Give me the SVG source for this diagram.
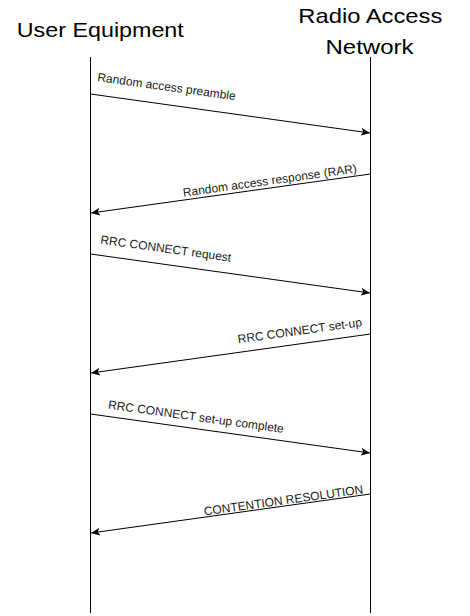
<svg xmlns="http://www.w3.org/2000/svg" width="470" height="616" viewBox="0 0 470 616">
<style>
.hdr{font-family:"Liberation Sans",Arial,sans-serif;font-size:21px;fill:#000;text-anchor:middle}
.lbl{font-family:"Liberation Sans",Arial,sans-serif;font-size:12px;fill:#1a1a1a}
.life{stroke:#000;stroke-width:1;fill:none}
.msg{stroke:#000;stroke-width:1;fill:none;marker-end:url(#arr)}
</style>
<defs>
<marker id="arr" markerUnits="userSpaceOnUse" markerWidth="10" markerHeight="8" refX="9" refY="4" orient="auto" viewBox="0 0 10 8">
<path d="M0,0 L9,4 L0,8 L2.2,4 Z" fill="#000"/>
</marker>
</defs>
<rect width="470" height="616" fill="#fff"/>
<g id="ue">
<text class="hdr" x="100.3" y="37.3" textLength="167" lengthAdjust="spacingAndGlyphs">User Equipment</text>
<line class="life" x1="90.5" y1="57" x2="90.5" y2="613"/>
</g>
<g id="ran">
<text class="hdr" x="370.3" y="22.7" textLength="144" lengthAdjust="spacingAndGlyphs">Radio Access</text>
<text class="hdr" x="369.5" y="53.7" textLength="88" lengthAdjust="spacingAndGlyphs">Network</text>
<line class="life" x1="370.5" y1="57" x2="370.5" y2="613"/>
</g>
<g id="connectors">
<line class="msg" x1="90.5" y1="94" x2="370" y2="133"/>
<line class="msg" x1="370.5" y1="174" x2="91" y2="213"/>
<line class="msg" x1="90.5" y1="254" x2="370" y2="293"/>
<line class="msg" x1="370.5" y1="334" x2="91" y2="373"/>
<line class="msg" x1="90.5" y1="414" x2="370" y2="453"/>
<line class="msg" x1="370.5" y1="494" x2="91" y2="533"/>
</g>
<g id="labels">
<text class="lbl" transform="translate(97,81) rotate(7.93)">Random access preamble</text>
<text class="lbl" transform="translate(183.5,196.7) rotate(-7.93)">Random access response (RAR)</text>
<text class="lbl" transform="translate(100,243.5) rotate(7.93)">RRC CONNECT request</text>
<text class="lbl" transform="translate(238.3,343.3) rotate(-7.93)">RRC CONNECT set-up</text>
<text class="lbl" transform="translate(107.7,408.5) rotate(7.93)">RRC CONNECT set-up complete</text>
<text class="lbl" transform="translate(204.5,515.5) rotate(-7.93)">CONTENTION RESOLUTION</text>
</g>
</svg>
